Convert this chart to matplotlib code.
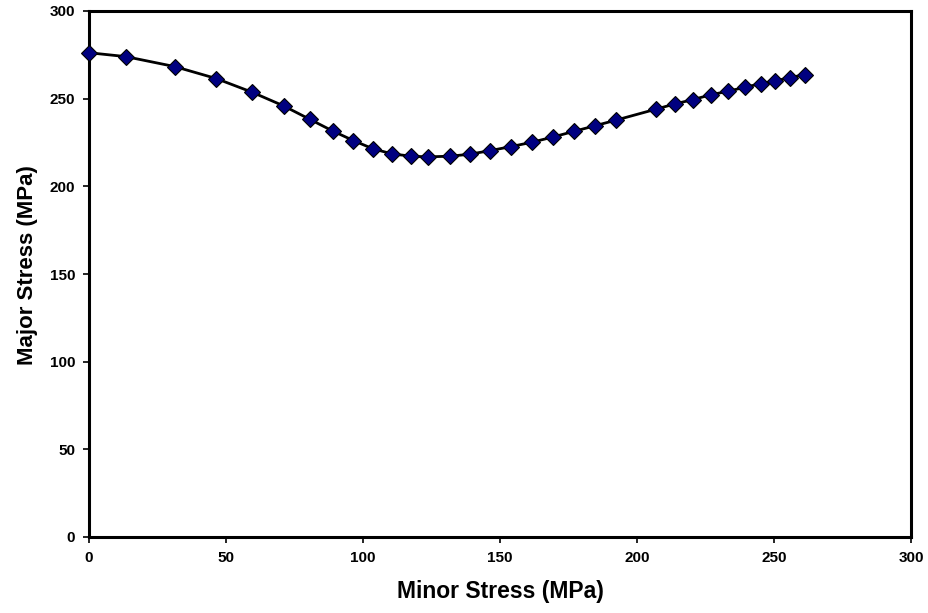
import matplotlib
matplotlib.use("Agg")
import matplotlib.pyplot as plt

minor_stress = [0, 13.4, 31.3, 46.4, 59.5, 71, 80.5, 88.9, 96.5, 103.5, 110.6, 117.6,
                123.6, 131.8, 138.9, 146.5, 154.1, 161.8, 169.5, 177.1, 184.8, 192.2,
                206.9, 213.8, 220.5, 227.1, 233.2, 239.3, 245.3, 250.3, 255.8, 261.2]
major_stress = [276.2, 274, 268.3, 261.5, 253.7, 245.9, 238.3, 231.6, 226.1, 221.5, 218.5,
                217.2, 216.8, 217.2, 218.3, 220.4, 222.7, 225.2, 228.2, 231.4, 234.6, 237.7,
                244, 247, 249.5, 252.3, 254.2, 256.5, 258.6, 260.1, 262, 263.7]
xticks = [0, 50, 100, 150, 200, 250, 300]
yticks = [0, 50, 100, 150, 200, 250, 300]

plt.rcParams['font.family'] = ['Liberation Sans', 'DejaVu Sans']

fig = plt.figure(figsize=(9.29, 6.13), dpi=100)
ax = fig.add_axes([89/929, 1-537/613, (911-89)/929, (537-11)/613])
ax.plot(minor_stress, major_stress, color='black', linewidth=2, zorder=2, clip_on=False)
ax.plot(minor_stress, major_stress, linestyle='none', marker='D', markersize=8,
        markerfacecolor='#000080', markeredgecolor='black', markeredgewidth=0.8,
        zorder=3, clip_on=False)
ax.set_xlim(0, 300)
ax.set_ylim(0, 300)
ax.set_xticks(xticks)
ax.set_yticks(yticks)
for s in ax.spines.values():
    s.set_linewidth(2.2)
ax.tick_params(direction='out', length=4.5, width=1.2, labelsize=11, pad=5.5)
for lab in ax.get_xticklabels() + ax.get_yticklabels():
    lab.set_fontweight('bold')
ax.set_xlabel('Minor Stress (MPa)', fontsize=16.5, fontweight='bold')
ax.set_ylabel('Major Stress (MPa)', fontsize=16, fontweight='bold')
ax.xaxis.set_label_coords(0.5, -0.082)
ax.yaxis.set_label_coords(-0.062, 0.517)
fig.savefig('out.png', dpi=100)
